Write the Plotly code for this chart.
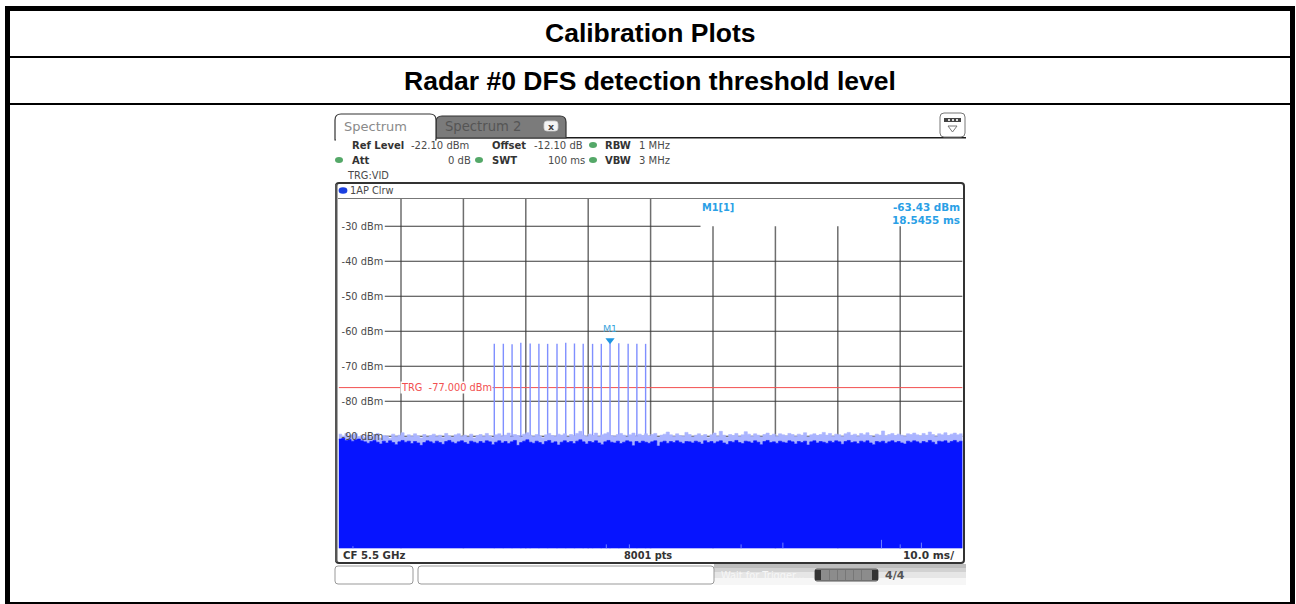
import plotly.graph_objects as go

W, H = 1296, 604
TIME_STEP = 0.5
REF_LEVEL = -22.1
BOTTOM = -122.1

pulse_times = [24.95, 26.4, 27.8, 29.2, 30.7, 32.1, 33.5, 35.0, 36.4, 37.8, 39.2, 40.7, 42.1, 43.5, 44.9, 46.4, 47.8, 49.2]
pulse_peaks = [-63.6, -63.6, -63.7, -63.3, -63.5, -63.6, -63.6, -63.6, -63.3, -63.5, -63.6, -63.6, -63.6, -63.43, -63.4, -63.6, -63.6, -63.6]

noise_floor = [
 -90.8,-90.6,-91.2,-90.9,-91.4,-91.0,-90.8,-91.3,-91.6,-92.0,-91.5,-91.2,-91.7,-92.2,-91.4,-91.9,-91.3,-91.8,-92.4,-91.6,
 -91.2,-91.7,-91.4,-92.1,-91.5,-91.9,-92.6,-91.8,-91.3,-91.6,-92.0,-91.4,-91.8,-92.3,-91.5,-91.2,-91.7,-92.1,-91.6,-91.3,
 -91.8,-92.2,-91.4,-91.7,-92.0,-91.5,-91.9,-91.3,-91.6,-92.4,-91.7,-91.3,-91.9,-91.5,-92.1,-91.6,-91.2,-92.6,-91.8,-91.4,
 -91.0,-91.7,-92.0,-91.4,-91.8,-92.3,-91.5,-91.2,-91.9,-91.6,-92.5,-91.7,-91.3,-91.8,-91.5,-92.1,-91.4,-91.0,-91.6,-92.2,
 -91.5,-91.8,-91.3,-91.9,-92.4,-91.6,-91.2,-91.7,-91.9,-91.4,-92.1,-91.7,-91.3,-91.6,-92.7,-91.5,-91.9,-91.4,-91.7,-92.0,
 -91.6,-91.3,-92.8,-91.7,-91.4,-92.0,-91.5,-91.8,-91.3,-91.7,-92.1,-91.5,-91.6,-91.9,-91.4,-91.7,-92.2,-91.3,-91.8,-91.5,
 -92.0,-91.6,-91.3,-91.9,-92.3,-91.5,-91.7,-91.2,-91.8,-92.1,-91.4,-91.6,-91.9,-91.3,-91.7,-92.4,-91.5,-91.2,-91.8,-91.6,
 -92.0,-91.4,-91.7,-91.9,-91.3,-91.6,-92.2,-91.5,-91.8,-91.4,-92.5,-91.6,-91.3,-91.9,-91.5,-91.7,-92.0,-91.4,-91.8,-91.3,
 -91.6,-92.3,-91.5,-91.2,-91.8,-91.6,-92.1,-91.4,-91.7,-91.3,-91.9,-92.4,-91.5,-91.7,-91.4,-92.0,-91.6,-91.3,-91.8,-91.5,
 -91.9,-92.2,-91.4,-91.7,-91.3,-91.6,-92.0,-91.5,-91.8,-91.2,-91.7,-92.3,-91.4,-91.6,-91.3,-91.9,-91.5,-91.2,-91.7,-91.4,
]
noise_peaks = [
 -89.4,-89.9,-89.2,-90.0,-89.6,-89.3,-90.1,-89.8,-90.4,-89.7,-90.2,-89.5,-89.2,-90.5,-89.8,-90.0,-90.6,-89.4,-90.1,-89.7,
 -89.0,-90.3,-89.6,-90.0,-89.3,-89.9,-90.5,-89.5,-90.2,-89.8,-89.4,-90.1,-89.7,-90.4,-89.2,-89.9,-90.3,-89.6,-89.3,-90.0,
 -89.7,-90.2,-89.4,-90.5,-89.8,-89.5,-90.1,-89.2,-89.9,-90.4,-89.6,-89.3,-90.0,-89.7,-89.1,-90.2,-89.5,-89.8,-90.3,-89.4,
 -89.0,-89.7,-90.1,-89.5,-89.9,-90.4,-89.6,-89.2,-89.8,-90.0,-89.4,-89.7,-89.3,-90.2,-89.5,-89.9,-89.2,-88.6,-89.7,-90.0,
 -89.4,-89.8,-89.1,-90.1,-89.6,-89.3,-88.9,-89.8,-90.0,-89.5,-89.2,-89.7,-90.2,-89.6,-89.1,-90.0,-89.4,-89.8,-89.3,-89.9,
 -89.5,-89.2,-90.3,-89.7,-89.4,-88.8,-89.6,-90.1,-89.3,-89.8,-90.0,-88.9,-89.5,-90.2,-89.7,-89.3,-89.9,-89.5,-90.4,-89.6,
 -89.1,-90.0,-88.6,-89.7,-90.3,-89.5,-89.8,-89.2,-90.1,-89.6,-88.7,-89.4,-90.0,-89.3,-89.7,-90.2,-89.5,-89.1,-89.8,-89.4,
 -90.0,-89.3,-89.6,-89.9,-89.2,-89.5,-90.1,-89.4,-89.7,-89.0,-90.2,-89.6,-89.3,-89.8,-89.5,-88.9,-89.7,-89.2,-90.0,-89.4,
 -89.6,-90.1,-89.3,-88.9,-89.7,-89.4,-90.0,-89.2,-89.6,-89.0,-89.8,-90.2,-89.4,-89.7,-88.5,-89.9,-89.5,-89.2,-89.8,-89.4,
 -89.7,-90.0,-89.3,-89.5,-89.1,-89.6,-89.9,-89.2,-89.7,-88.8,-89.5,-90.1,-89.3,-89.6,-89.0,-89.8,-89.4,-89.1,-89.6,-89.3,
]
bottom_tick_times = [2.3, 42.9, 46.6, 64.5, 71.2, 87.0, 90.0, 93.4]
bottom_tick_tops = [-121.4, -120.9, -120.9, -120.9, -120.4, -119.6, -120.9, -120.4]

y_tick_values = [-30, -40, -50, -60, -70, -80, -90]
y_tick_labels = ["-30 dBm", "-40 dBm", "-50 dBm", "-60 dBm", "-70 dBm", "-80 dBm", "-90 dBm"]
x_grid_times = [10, 20, 30, 40, 50, 60, 70, 80, 90]

marker_time = 43.5
marker_level = -62.6
trigger_level = -76.1
GRID_LEFT_TIME = 7.4
TOP_LINE_END = 58.0

BLUE = "#0614ff"
LIGHT = "#aab4ff"
PULSE = "#7f8fff"
CYAN = "#2aa0e6"
GREY_TEXT = "#4a4a4a"
FONT = "DejaVu Sans"

def X(p): return p / W
def Y(p): return 1 - p / H

times = [i * TIME_STEP for i in range(len(noise_floor))]

def sticks(xs, tops):
    sx, sy = [], []
    for x, t in zip(xs, tops):
        sx += [x, x, None]
        sy += [BOTTOM, t, None]
    return sx, sy

# grid lines, drawn as segments from the chart's level and time values
hx, hy = [], []
for v in y_tick_values:
    hx += [GRID_LEFT_TIME, TOP_LINE_END if v == -30 else 100, None]
    hy += [v, v, None]
vx, vy = [], []
for t in x_grid_times:
    vx += [t, t, None]
    vy += [REF_LEVEL if t < 60 else -30, BOTTOM, None]

fig = go.Figure()
fig.add_trace(go.Scatter(x=vx, y=vy, mode="lines", line=dict(color="#6e6e6e", width=1.5), hoverinfo="skip"))
fig.add_trace(go.Scatter(x=hx, y=hy, mode="lines", line=dict(color="#3a3a3a", width=1.1), hoverinfo="skip"))
fig.add_trace(go.Scatter(x=[0, 100], y=[trigger_level] * 2, mode="lines", line=dict(color="#f25050", width=1), hoverinfo="skip"))
px_, py_ = sticks(pulse_times, pulse_peaks)
fig.add_trace(go.Scatter(x=px_, y=py_, mode="lines", line=dict(color=PULSE, width=1.4), hoverinfo="skip"))

# fringe: baseline + stepped peaks, light fill
fig.add_trace(go.Scatter(x=[0, 100], y=[BOTTOM, BOTTOM], mode="lines", line=dict(width=0), hoverinfo="skip"))
fig.add_trace(go.Scatter(x=times + [100], y=noise_peaks + noise_peaks[-1:], mode="lines", line=dict(width=0.6, color=LIGHT, shape="hv"),
                         fill="tonexty", fillcolor=LIGHT, hoverinfo="skip"))
# solid floor
fig.add_trace(go.Scatter(x=[0, 100], y=[BOTTOM, BOTTOM], mode="lines", line=dict(width=0), hoverinfo="skip"))
fig.add_trace(go.Scatter(x=times + [100], y=noise_floor + noise_floor[-1:], mode="lines", line=dict(width=0.6, color=BLUE, shape="hv"),
                         fill="tonexty", fillcolor=BLUE, hoverinfo="skip"))
bx, by = sticks(bottom_tick_times, bottom_tick_tops)
fig.add_trace(go.Scatter(x=bx, y=by, mode="lines", line=dict(color="#6f80ff", width=1), hoverinfo="skip"))
fig.add_trace(go.Scatter(x=[marker_time], y=[marker_level], mode="markers+text", text=["M1"], textposition="top center",
                         textfont=dict(family=FONT, size=9.5, color="#3aa5dc"),
                         marker=dict(symbol="triangle-down", size=8, color="#1e96e0", line=dict(width=0)), hoverinfo="skip"))

shapes, annos = [], []

def rect(x0, y0, x1, y1, fill, line=None, lw=0, layer="below"):
    shapes.append(dict(type="rect", xref="paper", yref="paper", x0=X(x0), x1=X(x1), y0=Y(y0), y1=Y(y1),
                       fillcolor=fill, line=dict(color=line or fill, width=lw), layer=layer))

def rrect(x0, y0, x1, y1, r, fill=None, line="#555", lw=1, layer="below", corners="tl tr br bl"):
    c = corners.split()
    def cmd(px, py, qx, qy, on):
        return f"Q {X(px)} {Y(py)} {X(qx)} {Y(qy)}" if on else f"L {X(px)} {Y(py)} L {X(qx)} {Y(qy)}"
    path = (f"M {X(x0 + r)} {Y(y0)} L {X(x1 - r)} {Y(y0)} " + cmd(x1, y0, x1, y0 + r, "tr" in c) +
            f" L {X(x1)} {Y(y1 - r)} " + cmd(x1, y1, x1 - r, y1, "br" in c) +
            f" L {X(x0 + r)} {Y(y1)} " + cmd(x0, y1, x0, y1 - r, "bl" in c) +
            f" L {X(x0)} {Y(y0 + r)} " + cmd(x0, y0, x0 + r, y0, "tl" in c) + " Z")
    shapes.append(dict(type="path", xref="paper", yref="paper", path=path, fillcolor=fill or "rgba(0,0,0,0)",
                       line=dict(color=line, width=lw), layer=layer))

def dot(cx, cy, r, color, layer="below"):
    shapes.append(dict(type="circle", xref="paper", yref="paper", x0=X(cx - r), x1=X(cx + r), y0=Y(cy - r * .75), y1=Y(cy + r * .75),
                       fillcolor=color, line=dict(width=0), layer=layer))

def text(x, y, s, size=9.6, color=GREY_TEXT, bold=False, anchor="left", family=FONT, bg=None):
    annos.append(dict(xref="paper", yref="paper", x=X(x), y=Y(y), text=f"<b>{s}</b>" if bold else s, showarrow=False,
                      xanchor=anchor, yanchor="middle", align=anchor, borderpad=0,
                      font=dict(family=family, size=size, color=color),
                      **({"bgcolor": bg} if bg else {})))

# table frame
rect(5, 6, 1295, 11, "#000")
rect(5, 6, 10, 604, "#000")
rect(1290, 6, 1295, 604, "#000")
rect(5, 602, 1295, 604, "#000")
rect(10, 56, 1290, 58, "#000")
rect(10, 103, 1290, 105, "#000")
text(650, 33, "Calibration Plots", size=26.5, color="#000", bold=True, anchor="center", family="Liberation Sans")
text(650, 81, "Radar #0 DFS detection threshold level", size=26.5, color="#000", bold=True, anchor="center", family="Liberation Sans")

# tabs
rect(436, 137, 966, 138.5, "#1c1c1c")
rrect(436, 116, 566, 138, 6, fill="#7b7b7b", line="#333", lw=1.2, corners="tl tr")
rrect(335, 114, 436, 140, 6, fill="#ffffff", line="#333", lw=1.2, corners="tl tr")
rect(336, 136, 435, 141, "#ffffff")
rrect(544, 121, 558, 131, 3, fill="#f4f4f4", line="#cccccc", lw=0.8)
text(343, 126, "Spectrum", size=13, color="#8a8a8a")
text(444, 126, "Spectrum 2", size=13.2, color="#555555")
text(551, 126, "x", size=9.5, color="#444", bold=True, anchor="center")
rrect(940, 113, 965, 137, 4, fill="#fff", line="#777", lw=1)
rect(944, 118, 961, 122, "#444")
for sx in (948, 952, 956):
    rect(sx, 119, sx + 2, 121, "#ddd")
shapes.append(dict(type="path", xref="paper", yref="paper",
                   path=f"M {X(948)} {Y(126)} L {X(957)} {Y(126)} L {X(952.5)} {Y(132)} Z",
                   fillcolor="#fff", line=dict(color="#777", width=1), layer="below"))

# settings header
for y, row in ((145, [(351, "Ref Level", True), (410, "-22.10 dBm", False), (491, "Offset", True), (533, "-12.10 dB", False), (604, "RBW", True), (638, "1 MHz", False)]),
               (160, [(351, "Att", True), (447, "0 dB", False), (491, "SWT", True), (547, "100 ms", False), (604, "VBW", True), (638, "3 MHz", False)])):
    for x, s, b in row:
        text(x, y, s, bold=b, size=10, color="#333" if b else GREY_TEXT)
for cx, cy in ((593, 145), (339, 160), (479, 160), (593, 160)):
    dot(cx, cy, 4, "#54a868")
text(346, 175, "TRG:VID", size=9.8)

# diagram window
rrect(336, 183, 964, 563, 3, fill="#fff", line="#333", lw=2)
rect(335, 184, 337.5, 562, "#555")
rect(338, 198, 963, 199, "#777")
dot(343, 190.5, 4.4, "#1a3fe0")
text(349, 190.5, "1AP Clrw", size=9.8)
text(701, 207, "M1[1]", color=CYAN, bold=True, size=9.8)
text(961, 207, "-63.43 dBm", color=CYAN, bold=True, size=10.4, anchor="right")
text(961, 220, "18.5455 ms", color=CYAN, bold=True, size=10.4, anchor="right")
text(447, 388, "TRG  -77.000 dBm", color="#f25050", size=9.8, anchor="center", bg="#ffffff")
text(342, 555, "CF 5.5 GHz", bold=True, size=10.2, color="#333")
text(648, 555, "8001 pts", bold=True, size=9.8, color="#333", anchor="center")
text(955, 555, "10.0 ms/", bold=True, size=10.6, color="#333", anchor="right")

# status bar
rect(714, 564, 966, 568, "#bdbdbd")
rect(714, 568, 966, 572, "#d2d2d2")
rect(714, 572, 966, 578, "#e6e6e6")
rect(714, 578, 966, 585, "#f6f6f6")
rrect(335, 566, 413, 584, 3, fill="#fff", line="#999", lw=1)
rrect(418, 566, 714, 584, 3, fill="#fff", line="#999", lw=1)
text(720, 575, "Wait for Trigger...", size=9.8, color="#f7f7f7")
rrect(815, 569, 878, 581, 2, fill="#8c8c8c", line="#555", lw=1)
rect(815, 570, 821, 580, "#333")
rect(872, 570, 878, 580, "#333")
for sx in (829, 837, 845, 853, 861):
    rect(sx, 570, sx + 1, 580, "#777")
text(895, 575, "4/4", size=11, color="#555", bold=True, anchor="center")

fig.update_layout(
    width=W, height=H, margin=dict(l=0, r=0, t=0, b=0), paper_bgcolor="#fff", plot_bgcolor="rgba(0,0,0,0)",
    showlegend=False, shapes=shapes, annotations=annos,
    xaxis=dict(domain=[X(338.6), X(962.6)], range=[0, 100], showgrid=False, zeroline=False, showticklabels=False, ticks=""),
    yaxis=dict(domain=[Y(548.6), Y(198.6)], range=[BOTTOM, REF_LEVEL], showgrid=False, zeroline=False,
               tickmode="array", tickvals=y_tick_values, ticktext=y_tick_labels, ticks="",
               ticklabelposition="inside", tickfont=dict(family=FONT, size=9.8, color=GREY_TEXT)),
)
fig.write_html("out.html", config=dict(displayModeBar=False),
               post_script="document.body.style.margin='0';document.body.style.overflow='hidden';")
